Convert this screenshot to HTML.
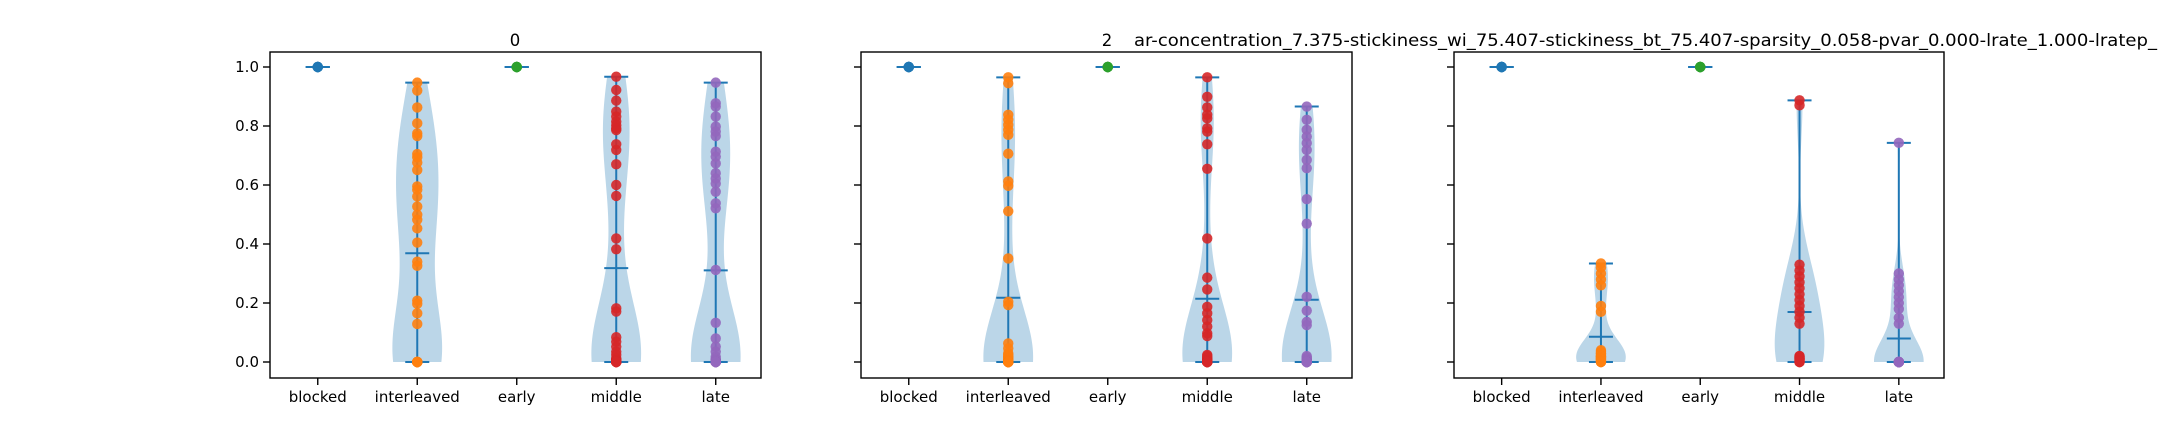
<!DOCTYPE html>
<html><head><meta charset="utf-8"><style>
html,body{margin:0;padding:0;background:#fff;}
svg{display:block;font-family:"DejaVu Sans","Liberation Sans",sans-serif;}
</style></head><body>
<svg id="chart" width="2160" height="432" viewBox="0 0 2160 432" xmlns="http://www.w3.org/2000/svg">
<text x="515" y="46" font-size="16.5" text-anchor="middle">0</text>
<text x="1107" y="46" font-size="16.5" text-anchor="middle">2</text>
<text x="1134" y="46" font-size="16.5" textLength="1023" lengthAdjust="spacingAndGlyphs">ar-concentration_7.375-stickiness_wi_75.407-stickiness_bt_75.407-sparsity_0.058-pvar_0.000-lrate_1.000-lratep_</text>
</svg>
<script>
const categories = ["blocked","interleaved","early","middle","late"];
const yTicks = [0.0,0.2,0.4,0.6,0.8,1.0];
const yTickLabels = ["0.0","0.2","0.4","0.6","0.8","1.0"];
const catColors = ["#1f77b4","#ff7f0e","#2ca02c","#d62728","#9467bd"];

const p0Blocked = [1,1,1,1,1];
const p0Interleaved = [0.947,0.920,0.863,0.809,0.775,0.766,0.705,0.694,0.676,0.651,0.595,0.584,0.561,0.527,0.499,0.482,0.453,0.405,0.340,0.326,0.208,0.197,0.165,0.129,0.0,0,0,0,0,0,0,0,0,0,0,0];
const p0Early = [1,1,1,1,1];
const p0Middle = [0.967,0.922,0.886,0.849,0.832,0.815,0.803,0.792,0.786,0.738,0.719,0.670,0.600,0.563,0.419,0.382,0.182,0.171,0.084,0.069,0.052,0.035,0.024,0.012,0.0,0.0,0.01,0.008,0.006,0.005,0.004,0.003,0.002,0.001,0,0,0,0,0];
const p0Late = [0.947,0.877,0.866,0.832,0.798,0.781,0.766,0.713,0.696,0.673,0.640,0.622,0.605,0.577,0.538,0.521,0.312,0.133,0.080,0.052,0.035,0.018,0.0,0.01,0.008,0.006,0.005,0.004,0.003,0.002,0,0,0,0,0,0,0,0,0];

const p1Blocked = [1,1,1,1,1];
const p1Interleaved = [0.965,0.945,0.838,0.821,0.804,0.787,0.770,0.706,0.612,0.597,0.511,0.351,0.204,0.193,0.063,0.046,0.018,0.0,0.0,0.03,0.025,0.02,0.015,0.01,0.008,0.006,0.005,0.004,0.003,0.002,0.001,0,0,0,0,0,0,0,0,0,0,0,0];
const p1Early = [1,1,1,1,1];
const p1Middle = [0.965,0.899,0.863,0.838,0.826,0.792,0.781,0.738,0.655,0.419,0.286,0.246,0.187,0.165,0.142,0.120,0.097,0.088,0.024,0.007,0.0,0.02,0.015,0.012,0.01,0.008,0.006,0.005,0.004,0.003,0.002,0.001,0,0,0,0,0,0,0,0,0,0,0];
const p1Late = [0.866,0.821,0.787,0.764,0.742,0.719,0.685,0.657,0.552,0.469,0.221,0.174,0.136,0.125,0.012,0.0,0.02,0.015,0.01,0.008,0.006,0.005,0.004,0.003,0.002,0.001,0,0,0,0,0,0,0,0,0,0,0];

const p2Blocked = [1,1,1,1,1];
const p2Interleaved = [0.334,0.32,0.30,0.28,0.26,0.19,0.17,0.04,0.035,0.03,0.03,0.025,0.02,0.02,0.02,0.015,0.015,0.01,0.01,0.01,0.005,0.005,0.0,0.0,0.0];
const p2Early = [1,1,1,1,1];
const p2Middle = [0.887,0.870,0.33,0.31,0.29,0.27,0.25,0.23,0.21,0.19,0.17,0.15,0.13,0.02,0.02,0.015,0.015,0.01,0.01,0.01,0.01,0.005,0.005,0.0,0.0,0.0];
const p2Late = [0.743,0.30,0.28,0.26,0.24,0.22,0.20,0.18,0.15,0.13,0,0,0,0,0,0,0,0,0,0,0,0,0,0,0,0,0,0,0,0,0,0,0,0];

const panels = [
  {left:270,right:761,data:[p0Blocked,p0Interleaved,p0Early,p0Middle,p0Late]},
  {left:861,right:1352,data:[p1Blocked,p1Interleaved,p1Early,p1Middle,p1Late]},
  {left:1454,right:1944,data:[p2Blocked,p2Interleaved,p2Early,p2Middle,p2Late]}
];
const TOP=52, BOTTOM=378;
const svg=document.getElementById('chart');
const NS="http://www.w3.org/2000/svg";
function mk(tag,attrs,parent){const e=document.createElementNS(NS,tag);for(const k in attrs)e.setAttribute(k,attrs[k]);(parent||svg).appendChild(e);return e;}
function yScale(v){return 362-(v)*295;}

panels.forEach((p,pi)=>{
  const g=mk('g',{});
  
  
  const unit=(p.right-p.left)/4.935;
  const xScale=i=>p.left+(i+1-0.52)*unit;
  p.data.forEach((vals,ci)=>{
    const cx=xScale(ci);
    const n=vals.length;
    const mn=Math.min(...vals), mx=Math.max(...vals);
    const mean=vals.reduce((a,b)=>a+b,0)/n;
    const sd=Math.sqrt(vals.reduce((a,b)=>a+(b-mean)*(b-mean),0)/(n-1));
    const vg=mk('g',{},g);
    
    
    if(sd>1e-9){
      const bw=sd*Math.pow(n,-0.2);
      const pts=[];let dmax=0;
      for(let k=0;k<=100;k++){
        const y=mn+(mx-mn)*k/100;let d=0;
        vals.forEach(v=>{const z=(y-v)/bw;d+=Math.exp(-0.5*z*z);});
        pts.push([y,d]);if(d>dmax)dmax=d;
      }
      const hw=0.25*unit;
      let path='';
      pts.forEach((q,k)=>{path+=(k?'L':'M')+(cx+q[1]/dmax*hw).toFixed(2)+','+yScale(q[0]).toFixed(2);});
      for(let k=pts.length-1;k>=0;k--){const q=pts[k];path+='L'+(cx-q[1]/dmax*hw).toFixed(2)+','+yScale(q[0]).toFixed(2);}
      path+='Z';
      const body=mk('path',{d:path,fill:'#1f77b4','fill-opacity':0.3,stroke:'none'},vg);
      
      
    }
    const bar=12;
    const vl=mk('line',{x1:cx,x2:cx,y1:yScale(mn),y2:yScale(mx),stroke:'#1f77b4','stroke-width':2},vg);
    
    
    [mn,mx,mean].forEach((v,j)=>{
      const l=mk('line',{x1:cx-bar,x2:cx+bar,y1:yScale(v),y2:yScale(v),stroke:'#1f77b4','stroke-width':2},vg);
      
      
    });
    vals.forEach(v=>{
      const c=mk('circle',{cx:cx,cy:yScale(v),r:5.2,fill:catColors[ci],'fill-opacity':0.9},vg);
      
      
    });
    const t=mk('line',{x1:cx,x2:cx,y1:BOTTOM,y2:BOTTOM+7,stroke:'#000','stroke-width':1.4},g);
    
    
    const tl=mk('text',{x:cx,y:402,'font-size':15,'text-anchor':'middle'},g);
    tl.textContent=categories[ci];
    
    
  });
  yTicks.forEach((v,k)=>{
    const t=mk('line',{x1:p.left-7,x2:p.left,y1:yScale(v),y2:yScale(v),stroke:'#000','stroke-width':1.4},g);
    
    
    if(pi===0){
      const tl=mk('text',{x:p.left-11,y:yScale(v)+5,'font-size':15,'text-anchor':'end'},g);
      tl.textContent=yTickLabels[k];
      
      
    }
  });
  const fr=mk('rect',{x:p.left,y:TOP,width:p.right-p.left,height:BOTTOM-TOP,fill:'none',stroke:'#000','stroke-width':1.4},g);
  
  
});
</script>
</body></html>
